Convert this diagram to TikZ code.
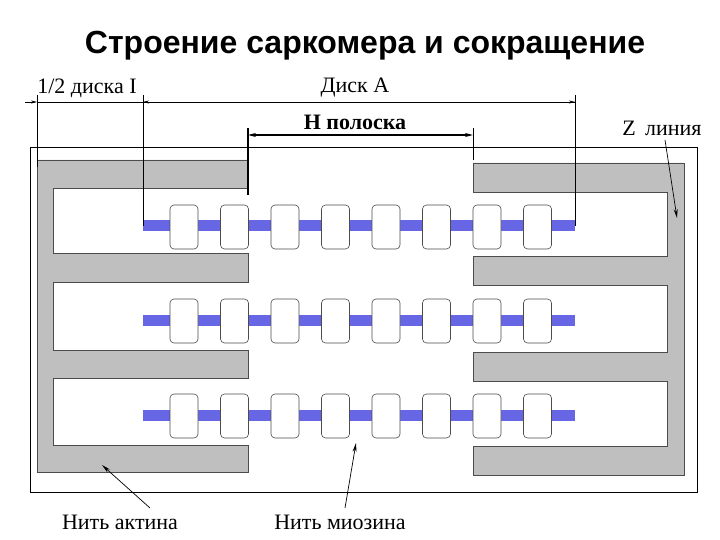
\documentclass[tikz,border=0pt]{standalone}
\usepackage{fontspec}
\setmainfont{Liberation Serif}
\newfontfamily\titlefont{Liberation Sans}
\usetikzlibrary{arrows.meta}
\begin{document}
\begin{tikzpicture}[x=1pt,y=-1pt,
  comb/.style={fill=gray!50,draw=black!70,line width=0.6pt},
  myo/.style={fill=blue!55!white!90!black,draw=none},
  head/.style={fill=white,draw=black!70,rounded corners=4pt,line width=0.6pt},
  lbl/.style={font=\fontsize{22}{24}\selectfont,inner sep=0pt},
  dim/.style={line width=0.6pt},
  pt/.style={-{Stealth[length=9pt,width=4pt]},line width=0.7pt}]
\useasboundingbox (0,0) rectangle (720,540);
\node[font=\titlefont\bfseries\fontsize{32}{36}\selectfont] (title) at (365,46) {Строение саркомера и сокращение};
% frame
\draw[line width=0.7pt] (30,147) rectangle (697,492);
% left comb
\draw[comb] (37,160) -- (248,160) -- (248,188) -- (53,188) -- (53,253) -- (248,253) -- (248,282) -- (53,282)
  -- (53,350) -- (248,350) -- (248,378) -- (53,378) -- (53,445) -- (248,445) -- (248,472) -- (37,472) -- cycle;
% right comb
\draw[comb] (684,163) -- (473,163) -- (473,192) -- (667,192) -- (667,256) -- (473,256) -- (473,285) -- (667,285)
  -- (667,352) -- (473,352) -- (473,381) -- (667,381) -- (667,446) -- (473,446) -- (473,475) -- (684,475) -- cycle;
% myosin rows
\foreach \y in {226,320,415}{
  \fill[myo] (143,\y-5.5) rectangle (575,\y+5.5);
  \foreach \x in {170,220.5,271,321.5,372,422.5,473,523.5}{
    \draw[head] (\x,\y-21) rectangle (\x+28,\y+23);
  }
}
% dimension lines
\coordinate (d1) at (37,102); \coordinate (d2) at (143,102); \coordinate (d3) at (575,102);
\draw[dim] (d1) -- (d3);
\draw[dim,-{Stealth[length=6pt,width=3pt]}] (25,102) -- (d1);
\draw[dim,-{Stealth[length=6pt,width=3pt]}] (160,102) -- (d2);
\draw[dim,-{Stealth[length=6pt,width=3pt]}] (555,102) -- (d3);
\draw[dim] (37,95) -- (37,167);
\draw[dim] (143,95) -- (143,226);
\draw[dim] (575,95) -- (575,226);
\coordinate (h1) at (248,135); \coordinate (h2) at (473,135);
\draw[line width=1.4pt,{Stealth[length=8pt,width=4pt]}-{Stealth[length=8pt,width=4pt]}] (h1) -- (h2);
\draw[line width=1.4pt] (248,128) -- (248,195);
\draw[dim] (473,128) -- (473,160);
% labels
\node[lbl] (half) at (87,88) {1/2 диска I};
\node[lbl] (diska) at (355,88) {Диск А};
\node[lbl,font=\bfseries\fontsize{22}{24}\selectfont] (hband) at (355,122) {Н полоска};
\node[lbl] (zl) at (662,128) {Z\, линия};
\node[lbl] (actin) at (120,522) {Нить актина};
\node[lbl] (myosin) at (340,522) {Нить миозина};
\coordinate (za) at (677,218); \coordinate (aa) at (102,465); \coordinate (ma) at (356,443);
\draw[pt] (665,140) -- (za);
\draw[pt] (150,508) -- (aa);
\draw[pt] (345,508) -- (ma);
\end{tikzpicture}
\end{document}
